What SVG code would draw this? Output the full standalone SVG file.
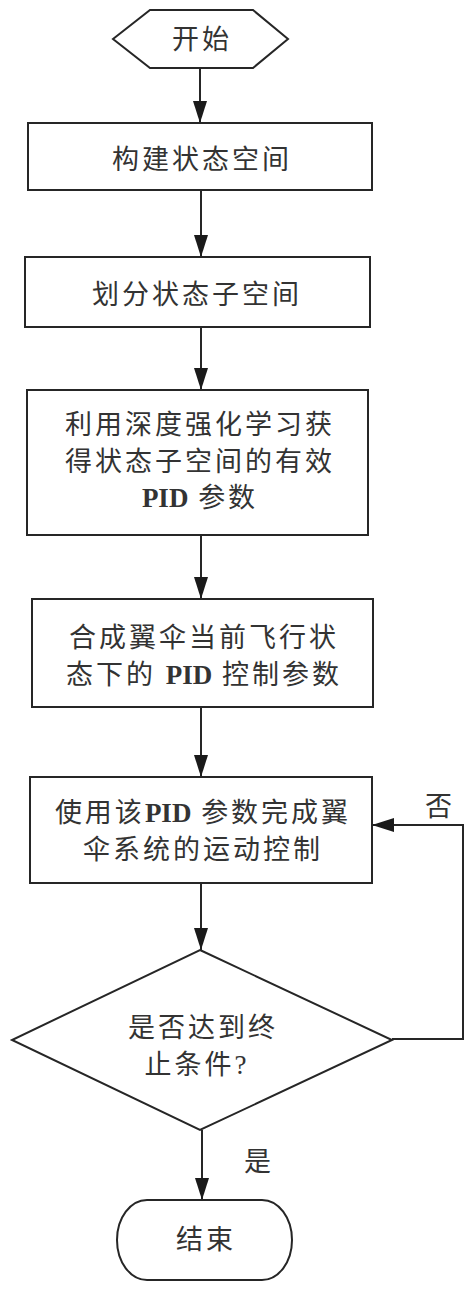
<svg xmlns="http://www.w3.org/2000/svg" width="474" height="1293" viewBox="0 0 474 1293">
<style>
.shape{fill:#fff;stroke:#262626;stroke-width:2}
.conn{fill:none;stroke:#262626;stroke-width:2}
.t{font-family:"Liberation Serif","Noto Sans CJK SC",serif;font-size:27px;fill:#333;text-anchor:middle;letter-spacing:3px}
.b{font-weight:bold;letter-spacing:0px}
</style>
<defs>
<marker id="arr" markerUnits="userSpaceOnUse" markerWidth="22" markerHeight="14" refX="22" refY="7" orient="auto">
<path d="M0,0 L22,7 L0,14 z" fill="#1a1a1a"/>
</marker>
</defs>
<rect width="474" height="1293" fill="#fff"/>
<g id="connectors">
<line class="conn" x1="200" y1="68" x2="200" y2="123" marker-end="url(#arr)"/>
<line class="conn" x1="201" y1="190" x2="201" y2="257" marker-end="url(#arr)"/>
<line class="conn" x1="201" y1="327" x2="201" y2="390" marker-end="url(#arr)"/>
<line class="conn" x1="201" y1="535" x2="201" y2="599" marker-end="url(#arr)"/>
<line class="conn" x1="201" y1="707" x2="201" y2="777" marker-end="url(#arr)"/>
<line class="conn" x1="201" y1="883" x2="201" y2="950" marker-end="url(#arr)"/>
<line class="conn" x1="202" y1="1130" x2="202" y2="1200" marker-end="url(#arr)"/>
<polyline class="conn" points="392,1039 463,1039 463,825 372,825" marker-end="url(#arr)"/>
<text class="t" x="440" y="816">否</text>
<text class="t" x="259" y="1171">是</text>
</g>
<g id="start">
<polygon class="shape" points="113,39 150,10 253,10 288,39 253,68 150,68"/>
<text class="t" x="202" y="49">开始</text>
</g>
<g id="box1">
<rect class="shape" x="28" y="123" width="344" height="67"/>
<text class="t" x="202" y="169">构建状态空间</text>
</g>
<g id="box2">
<rect class="shape" x="25" y="257" width="345" height="70"/>
<text class="t" x="197" y="304">划分状态子空间</text>
</g>
<g id="box3">
<rect class="shape" x="27" y="390" width="341" height="145"/>
<text class="t" x="200" y="434">利用深度强化学习获</text>
<text class="t" x="200" y="471">得状态子空间的有效</text>
<text class="t" x="200" y="507"><tspan class="b">PID</tspan> 参数</text>
</g>
<g id="box4">
<rect class="shape" x="32" y="599" width="341" height="108"/>
<text class="t" x="204" y="647">合成翼伞当前飞行状</text>
<text class="t" x="204" y="684">态下的 <tspan class="b">PID</tspan> 控制参数</text>
</g>
<g id="box5">
<rect class="shape" x="30" y="777" width="342" height="106"/>
<text class="t" x="203" y="822">使用该<tspan class="b">PID</tspan> 参数完成翼</text>
<text class="t" x="203" y="859">伞系统的运动控制</text>
</g>
<g id="decision">
<polygon class="shape" points="200,950 392,1040 200,1130 12,1040"/>
<text class="t" x="203" y="1037">是否达到终</text>
<text class="t" x="197" y="1074">止条件?</text>
</g>
<g id="end">
<rect class="shape" x="117" y="1200" width="175" height="80" rx="30" ry="40"/>
<text class="t" x="206" y="1249">结束</text>
</g>
</svg>
